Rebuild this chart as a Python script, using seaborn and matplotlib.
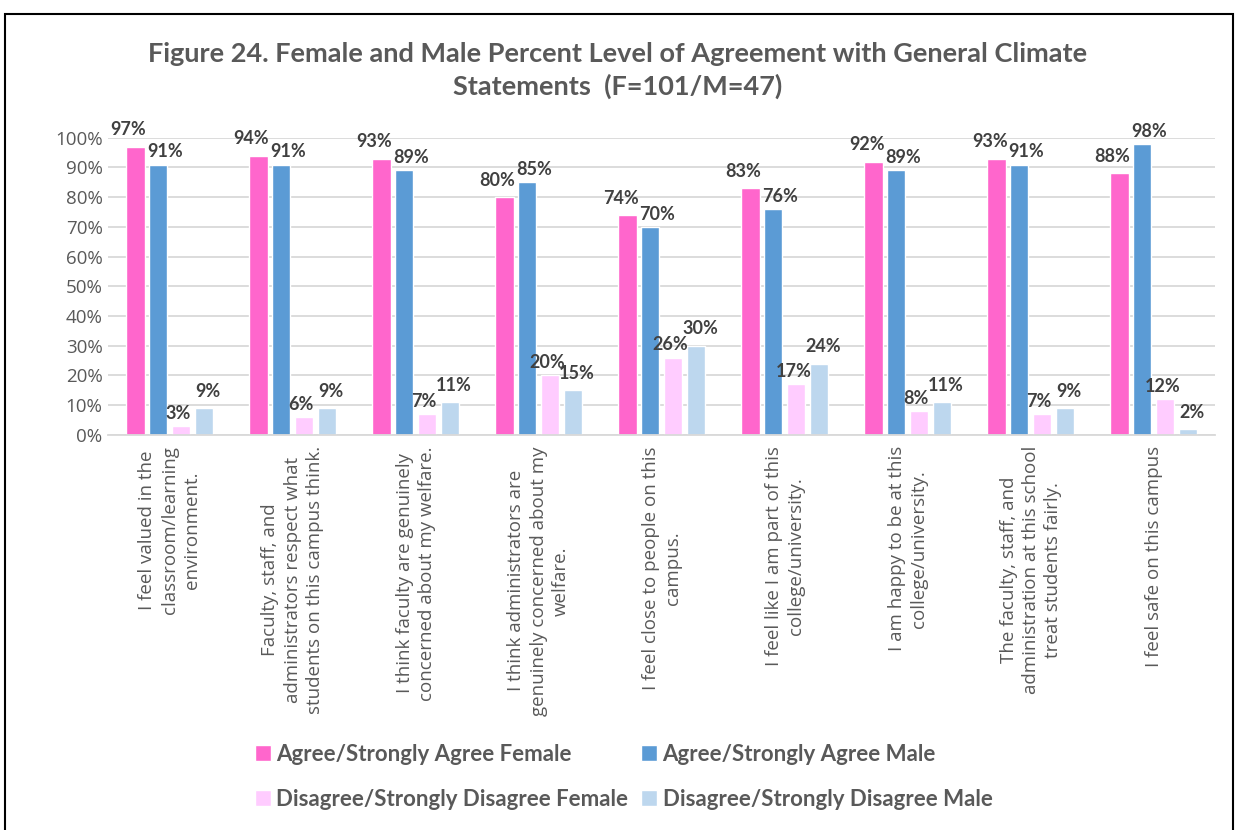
import matplotlib
matplotlib.use("Agg")
import matplotlib.pyplot as plt
import seaborn as sns
import pandas as pd
from matplotlib.patches import Rectangle

statements = [
    "I feel valued in the\nclassroom/learning\nenvironment.",
    "Faculty, staff, and\nadministrators respect what\nstudents on this campus think.",
    "I think faculty are genuinely\nconcerned about my welfare.",
    "I think administrators are\ngenuinely concerned about my\nwelfare.",
    "I feel close to people on this\ncampus.",
    "I feel like I am part of this\ncollege/university.",
    "I am happy to be at this\ncollege/university.",
    "The faculty, staff, and\nadministration at this school\ntreat students fairly.",
    "I feel safe on this campus",
]
series_names = [
    "Agree/Strongly Agree Female",
    "Agree/Strongly Agree Male",
    "Disagree/Strongly Disagree Female",
    "Disagree/Strongly Disagree Male",
]
agree_female = [97, 94, 93, 80, 74, 83, 92, 93, 88]
agree_male = [91, 91, 89, 85, 70, 76, 89, 91, 98]
disagree_female = [3, 6, 7, 20, 26, 17, 8, 7, 12]
disagree_male = [9, 9, 11, 15, 30, 24, 11, 9, 2]
colors = ["#FF66CC", "#5B9BD5", "#FFCCFF", "#BDD7EE"]

rows = []
for name, vals in zip(series_names, [agree_female, agree_male, disagree_female, disagree_male]):
    for s, v in zip(statements, vals):
        rows.append({"statement": s, "series": name, "value": v})
df = pd.DataFrame(rows)

sns.set_theme(style="white")
plt.rcParams["font.family"] = ["Open Sans", "DejaVu Sans"]

fig = plt.figure(figsize=(12.35, 8.3), dpi=100)
ax = fig.add_axes([0.0875, 0.476, 0.8965, 0.358])

sns.barplot(data=df, x="statement", y="value", hue="series", order=statements,
            hue_order=series_names, palette=colors, width=0.74, gap=0.2,
            saturation=1, ax=ax, errorbar=None)

ax.set_ylim(0, 100)
ax.set_xlim(-0.5, len(statements) - 0.5)
ax.set_yticks(range(0, 101, 10))
ax.set_yticklabels([f"{t}%" for t in range(0, 101, 10)], fontsize=13.5, color="#595959")
ax.yaxis.grid(True, color="#D9D9D9", linewidth=1.3)
ax.set_axisbelow(True)
for side in ["top", "right", "left"]:
    ax.spines[side].set_visible(False)
ax.spines["bottom"].set_color("#D9D9D9")
ax.spines["bottom"].set_linewidth(1.3)
ax.tick_params(axis="both", length=0, pad=4)
ax.tick_params(axis="x", pad=8)
ax.set_xlabel("")
ax.set_ylabel("")
ax.set_xticks(range(len(statements)))
ax.set_xticklabels(statements, rotation=90, fontsize=13.5, color="#595959",
                   ha="center", va="top", multialignment="center", linespacing=1.3)

dxs = [-5, 5, -2, 3]
dys = [6, 3, 3, 6]
for cont, dx, dy in zip(ax.containers, dxs, dys):
    texts = ax.bar_label(cont, fmt="%d%%", padding=3, fontsize=13, fontweight="bold",
                         color="#404040", family=["Lato", "DejaVu Sans"])
    for t in texts:
        t.xyann = (dx, dy)

handles, labels = ax.get_legend_handles_labels()
ax.legend_.remove()
order = [0, 2, 1, 3]
fig.legend([handles[i] for i in order], [labels[i] for i in order],
           loc="lower center", bbox_to_anchor=(0.505, 0.0), ncol=2,
           frameon=False, handlelength=0.7, handleheight=0.7, handletextpad=0.25,
           columnspacing=0.6, labelspacing=1.1,
           prop={"family": ["Lato", "DejaVu Sans"], "weight": "bold", "size": 16},
           labelcolor="#595959")

fig.text(0.5, 0.915, "Figure 24. Female and Male Percent Level of Agreement with General Climate\nStatements  (F=101/M=47)",
         ha="center", va="center", fontsize=19.5, fontweight="bold", color="#595959",
         family=["Lato", "DejaVu Sans"], linespacing=1.4)

fig.patches.append(Rectangle((0.004, -0.01), 0.994, 0.993, transform=fig.transFigure,
                             fill=False, edgecolor="black", linewidth=1.5))

fig.savefig("out.png", dpi=100)
